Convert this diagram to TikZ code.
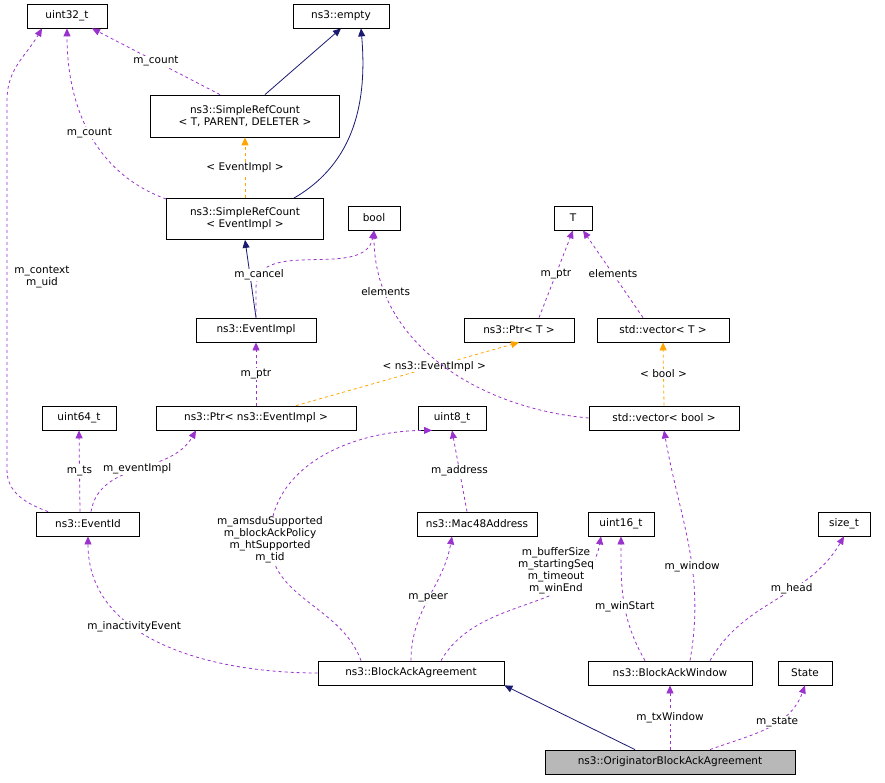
\documentclass[tikz,border=0pt]{standalone}
\usepackage{fontspec}
\setmainfont{DejaVu Sans}
\usetikzlibrary{arrows.meta}

\definecolor{member}{RGB}{154,50,205}
\definecolor{inherit}{RGB}{25,25,112}
\definecolor{templ}{RGB}{255,165,0}
\tikzstyle{cls} = [draw, line width=0.8pt, rectangle, fill=white, text centered, inner sep=2pt, minimum height=24pt, font=\fontsize{10.5}{12}\selectfont]
\tikzstyle{lbl} = [fill=white, text=black, inner sep=1pt, align=center, font=\fontsize{10.5}{12}\selectfont]
\tikzstyle{usage} = [draw=member, line width=0.8pt, dashed, -{Triangle[length=8pt,width=7pt]}, color=member]
\tikzstyle{base} = [draw=inherit, line width=0.8pt, -{Triangle[length=8pt,width=7pt]}, color=inherit]
\tikzstyle{tmpl} = [draw=templ, line width=0.8pt, dashed, -{Triangle[length=8pt,width=7pt]}, color=templ]

\begin{document}
\begin{tikzpicture}[x=1pt, y=-1pt]
	\useasboundingbox (0,0) rectangle (885,783);
	% classes
	\node [cls, minimum width=80pt] (u32) at (67,16) {uint32\_t};
	\node [cls, minimum width=96pt] (empty) at (341,16) {ns3::empty};
	\node [cls, minimum width=189pt, minimum height=42pt, align=center] (srct) at (245,116) {ns3::SimpleRefCount\\< T, PARENT, DELETER >};
	\node [cls, minimum width=157pt, minimum height=41pt, align=center] (srce) at (245,219) {ns3::SimpleRefCount\\< EventImpl >};
	\node [cls, minimum width=52pt] (bool) at (374,218) {bool};
	\node [cls, minimum width=38pt] (T) at (573,218) {T};
	\node [cls, minimum width=120pt] (eimpl) at (256,330) {ns3::EventImpl};
	\node [cls, minimum width=110pt] (ptrt) at (519,330) {ns3::Ptr< T >};
	\node [cls, minimum width=132pt] (vect) at (663,330) {std::vector< T >};
	\node [cls, minimum width=74pt] (u64) at (79,418) {uint64\_t};
	\node [cls, minimum width=200pt] (ptre) at (256,418) {ns3::Ptr< ns3::EventImpl >};
	\node [cls, minimum width=68pt] (u8) at (452,418) {uint8\_t};
	\node [cls, minimum width=150pt] (vecb) at (664,418) {std::vector< bool >};
	\node [cls, minimum width=103pt] (eid) at (88,524) {ns3::EventId};
	\node [cls, minimum width=120pt] (mac) at (477,524) {ns3::Mac48Address};
	\node [cls, minimum width=66pt] (u16) at (621,524) {uint16\_t};
	\node [cls, minimum width=52pt] (size) at (844,524) {size\_t};
	\node [cls, minimum width=186pt] (baa) at (411,673) {ns3::BlockAckAgreement};
	\node [cls, minimum width=164pt] (baw) at (670,673) {ns3::BlockAckWindow};
	\node [cls, minimum width=54pt] (state) at (805,673) {State};
	\node [cls, minimum width=250pt, fill=black!28] (orig) at (670,762) {ns3::OriginatorBlockAckAgreement};

	% inheritance
	\draw [base] (srct.north) ++(20,0) to (empty.south);
	\draw [base] (srce.north east) ++(-30,0) to[out=30, in=-85] ([xshift=20pt]empty.south);
	\draw [base] (eimpl.north) to (srce.south);
	\draw [base] (orig.north) ++(-35,0) to (baa.south east);

	% templates
	\draw [tmpl] (srce.north) to node[lbl] {< EventImpl >} (srct.south);
	\draw [tmpl] (ptre.north) ++(40,0) to node[lbl, pos=0.62] {< ns3::EventImpl >} (ptrt.south);
	\draw [tmpl] (vecb.north) to node[lbl] {< bool >} (vect.south);

	% members
	\draw [usage] (srct.north) ++(-25,0) to node[lbl] {m\_count} ([xshift=25pt]u32.south);
	\draw [usage] (srce.west) ++(0,-20) to[out=160, in=-90] node[lbl, pos=0.5] {m\_count} (u32.south);
	\draw [usage] (eimpl.north) to[out=90, in=-90] ++(0,-30) to[out=90, in=-100] node[lbl, pos=0.1] {m\_cancel} (bool.south);
	\draw [usage] (ptrt.north) ++(20,0) to node[lbl] {m\_ptr} (T.south);
	\draw [usage] (vect.north) ++(-20,0) to node[lbl] {elements} ([xshift=10pt]T.south);
	\draw [usage] (vecb.west) to[out=175, in=-90] node[lbl, pos=0.8] {elements} (bool.south);
	\draw [usage] (ptre.north) to node[lbl] {m\_ptr} (eimpl.south);
	\draw [usage] (eid.north west) ++(12,0) to[out=160, in=-90] (7,470) -- (7,100) to[out=90, in=-120] ([xshift=-25pt]u32.south);
	\node [lbl, fill=none] (ctxl) at (42,277) {m\_context\\m\_uid};
	\draw [usage] (eid.north) ++(-8,0) to node[lbl] {m\_ts} (u64.south);
	\draw [usage] (eid.north) ++(3,0) to[out=80, in=-120] node[lbl] {m\_eventImpl} ([xshift=-60pt]ptre.south);
	\draw [usage] (mac.north) ++(-10,0) to node[lbl] {m\_address} (u8.south);
	\draw [usage] (baa.north) ++(-50,0) to[out=110, in=-90] (270,540) node[lbl] {m\_amsduSupported\\m\_blockAckPolicy\\m\_htSupported\\m\_tid} to[out=90, in=180] ([xshift=-20pt]u8.south);
	\draw [usage] (baa.north) to[out=90, in=-100] node[lbl, pos=0.5] {m\_peer} ([xshift=-25pt]mac.south);
	\draw [usage] (baa.north) ++(30,0) to[out=60, in=-100] ([xshift=-20pt]u16.south);
	\node [lbl] (bufl) at (556,571) {m\_bufferSize\\m\_startingSeq\\m\_timeout\\m\_winEnd};
	\draw [usage] (baa.west) to[out=180, in=-90] node[lbl, pos=0.62] {m\_inactivityEvent} (eid.south);
	\draw [usage] (baw.north) ++(-25,0) to[out=120, in=-90] node[lbl, pos=0.45] {m\_winStart} (u16.south);
	\draw [usage] (baw.north) ++(20,0) to[out=80, in=-80] node[lbl, pos=0.4] {m\_window} (vecb.south);
	\draw [usage] (baw.north) ++(40,0) to[out=60, in=-120] node[lbl, pos=0.6] {m\_head} (size.south);
	\draw [usage] (orig.north) to node[lbl] {m\_txWindow} (baw.south);
	\draw [usage] (orig.north) ++(40,0) to[out=20, in=-110] node[lbl, pos=0.6] {m\_state} (state.south);
\end{tikzpicture}
\end{document}
